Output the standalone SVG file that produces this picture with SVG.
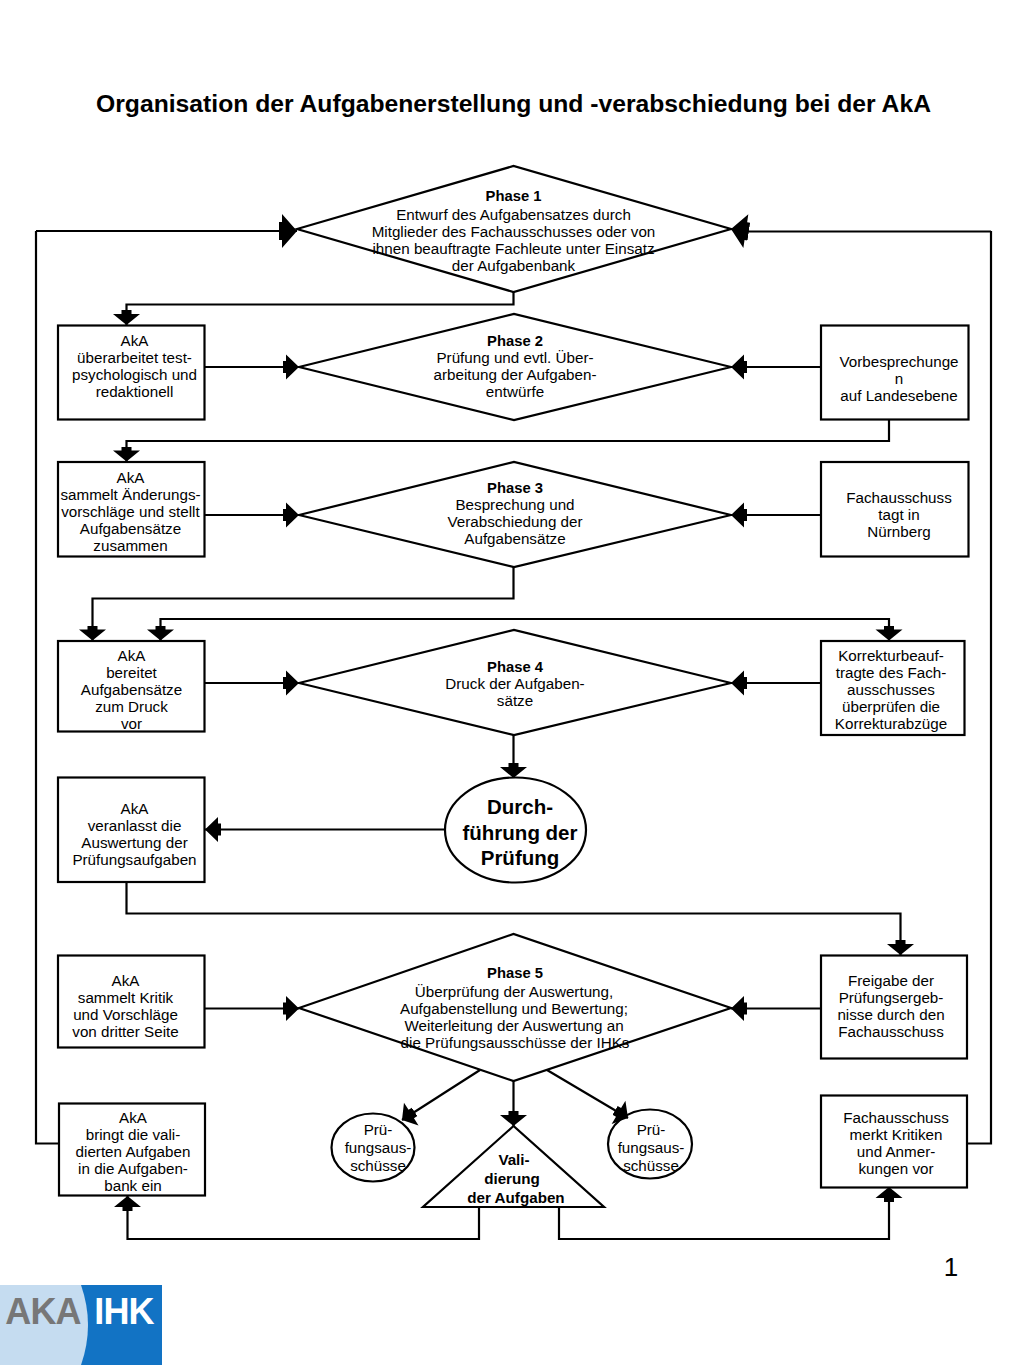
<svg xmlns="http://www.w3.org/2000/svg" width="1024" height="1365" viewBox="0 0 1024 1365">
<style>
.n{fill:none;stroke:#000;stroke-width:2.2}
.c{fill:none;stroke:#000;stroke-width:2.2;marker-end:url(#ah)}
.v{marker-end:url(#ahv)}
.b{marker-end:url(#ahb)}
text{font-family:"Liberation Sans",Arial,sans-serif;font-size:15.2px;text-anchor:middle;fill:#000}
.h{font-weight:bold;font-size:14.8px}
.t{font-size:24.7px;font-weight:bold}
.d{font-size:20.5px;font-weight:bold}
.l{font-size:36px;font-weight:bold;letter-spacing:-.8px}
</style>
<defs>
<marker id="ah" markerUnits="userSpaceOnUse" markerWidth="20" markerHeight="30" refX="16" refY="15" orient="auto" viewBox="0 0 20 30">
<path d="M0 9H3V2.500L16 15 3 27.500V21H0Z" fill="#000"/>
</marker>
<marker id="ahv" markerUnits="userSpaceOnUse" markerWidth="20" markerHeight="30" refX="15" refY="15" orient="auto" viewBox="0 0 20 30">
<path d="M0 10H4V1.500L15 15 4 28.500V20H0Z" fill="#000"/>
</marker>
<marker id="ahb" markerUnits="userSpaceOnUse" markerWidth="20" markerHeight="36" refX="18" refY="18" orient="auto" viewBox="0 0 20 36">
<path d="M0 9H3V1L18 18 3 35V27H0Z" fill="#000"/>
</marker>
</defs>
<rect width="1024" height="1365" fill="#fff"/>
<g id="title"><text class="t" x="513.500" y="112">Organisation der Aufgabenerstellung und -verabschiedung bei der AkA</text></g>
<g id="connectors">
<path class="n" d="M58 1143.500H36V231"/>
<path class="c b" d="M36 231H297"/>
<path class="n" d="M967 1143.500H991V231"/>
<path class="c b" d="M991 231.500H748L731 229"/>
<path class="c v" d="M513.500 292V304.500H126.500V325"/>
<path class="c" d="M205 367H299"/>
<path class="c" d="M821 367H731"/>
<path class="c v" d="M889 420V441H126.500V461.500"/>
<path class="c" d="M205 515H299"/>
<path class="c" d="M821 515H731"/>
<path class="c v" d="M513.500 567V598.500H92.500V640.500"/>
<path class="c v" d="M524 619H160.500V640.500"/>
<path class="c v" d="M524 619H889V640.500"/>
<path class="c" d="M205 683H299"/>
<path class="c" d="M821 683H731"/>
<path class="c v" d="M513.500 735V778"/>
<path class="c" d="M445 829.500H205"/>
<path class="c v" d="M126.500 882V913.500H900.500V955"/>
<path class="c" d="M205 1008.500H299"/>
<path class="c" d="M821 1008.500H731"/>
<path class="c v" d="M513.500 1081V1126"/>
<path class="c v" d="M480 1070L402 1120"/>
<path class="c v" d="M547 1070L628 1118"/>
<path class="c v" d="M479 1207V1239H127.500V1196"/>
<path class="c v" d="M559 1207V1239H889V1187"/>
</g>
<g id="phase1"><polygon class="n" points="297,229 513.500,166 731,229 513.500,292"/>
<text class="h" x="513.500" y="200.500">Phase 1</text><text x="513.500" y="219.500">Entwurf des Aufgabensatzes durch</text><text x="513.500" y="236.500">Mitglieder des Fachausschusses oder von</text><text x="513.500" y="253.500">ihnen beauftragte Fachleute unter Einsatz</text><text x="513.500" y="270.500">der Aufgabenbank</text></g>
<g id="phase2"><polygon class="n" points="299,367 514,314 731,367 514,420"/>
<text class="h" x="515" y="345.500">Phase 2</text><text x="515" y="363">Prüfung und evtl. Über-</text><text x="515" y="380">arbeitung der Aufgaben-</text><text x="515" y="397">entwürfe</text></g>
<g id="phase3"><polygon class="n" points="299,515 514,462 731,515 514,567"/>
<text class="h" x="515" y="492.500">Phase 3</text><text x="515" y="510">Besprechung und</text><text x="515" y="527">Verabschiedung der</text><text x="515" y="544">Aufgabensätze</text></g>
<g id="phase4"><polygon class="n" points="299,683 514,630 731,683 514,735"/>
<text class="h" x="515" y="671.500">Phase 4</text><text x="515" y="689">Druck der Aufgaben-</text><text x="515" y="706">sätze</text></g>
<g id="phase5"><polygon class="n" points="299,1008 513.500,934 731,1008 513.500,1081"/>
<text class="h" x="515" y="977.500">Phase 5</text><text x="514" y="997">Überprüfung der Auswertung,</text><text x="514" y="1014">Aufgabenstellung und Bewertung;</text><text x="514" y="1031">Weiterleitung der Auswertung an</text><text x="515" y="1048">die Prüfungsausschüsse der IHKs</text></g>
<g id="box-aka-1"><rect class="n" x="58" y="325.500" width="146.500" height="94"/>
<text x="134.500" y="346">AkA</text><text x="134.500" y="363">überarbeitet test-</text><text x="134.500" y="380">psychologisch und</text><text x="134.500" y="397">redaktionell</text></g>
<g id="box-vorbesprechungen"><rect class="n" x="821" y="325.500" width="147.500" height="94"/>
<text x="899" y="367">Vorbesprechunge</text><text x="899" y="384">n</text><text x="899" y="401">auf Landesebene</text></g>
<g id="box-aka-2"><rect class="n" x="58" y="462" width="146.500" height="94.500"/>
<text x="130.500" y="483">AkA</text><text x="130.500" y="500">sammelt Änderungs-</text><text x="130.500" y="517">vorschläge und stellt</text><text x="130.500" y="534">Aufgabensätze</text><text x="130.500" y="551">zusammen</text></g>
<g id="box-fachausschuss-1"><rect class="n" x="821" y="462" width="147.500" height="94.500"/>
<text x="899" y="503">Fachausschuss</text><text x="899" y="520">tagt in</text><text x="899" y="537">Nürnberg</text></g>
<g id="box-aka-3"><rect class="n" x="58" y="641" width="146.500" height="90.500"/>
<text x="131.500" y="661">AkA</text><text x="131.500" y="678">bereitet</text><text x="131.500" y="695">Aufgabensätze</text><text x="131.500" y="712">zum Druck</text><text x="131.500" y="729">vor</text></g>
<g id="box-korrektur"><rect class="n" x="821" y="641" width="143.500" height="94"/>
<text x="891" y="661">Korrekturbeauf-</text><text x="891" y="678">tragte des Fach-</text><text x="891" y="695">ausschusses</text><text x="891" y="712">überprüfen die</text><text x="891" y="729">Korrekturabzüge</text></g>
<g id="box-aka-4"><rect class="n" x="58" y="777.500" width="146.500" height="104.500"/>
<text x="134.500" y="814">AkA</text><text x="134.500" y="831">veranlasst die</text><text x="134.500" y="848">Auswertung der</text><text x="134.500" y="865">Prüfungsaufgaben</text></g>
<g id="durchfuehrung"><ellipse class="n" cx="515.500" cy="830" rx="70.500" ry="52.500"/>
<text class="d" x="520" y="814">Durch-</text><text class="d" x="520" y="840">führung der</text><text class="d" x="520" y="865">Prüfung</text></g>
<g id="box-aka-5"><rect class="n" x="58" y="955.500" width="146.500" height="92"/>
<text x="125.500" y="986">AkA</text><text x="125.500" y="1003">sammelt Kritik</text><text x="125.500" y="1020">und Vorschläge</text><text x="125.500" y="1037">von dritter Seite</text></g>
<g id="box-freigabe"><rect class="n" x="821" y="955.500" width="146" height="103"/>
<text x="891" y="986">Freigabe der</text><text x="891" y="1003">Prüfungsergeb-</text><text x="891" y="1020">nisse durch den</text><text x="891" y="1037">Fachausschuss</text></g>
<g id="box-aka-6"><rect class="n" x="59" y="1103.500" width="146" height="92"/>
<text x="133" y="1123">AkA</text><text x="133" y="1140">bringt die vali-</text><text x="133" y="1157">dierten Aufgaben</text><text x="133" y="1174">in die Aufgaben-</text><text x="133" y="1191">bank ein</text></g>
<g id="box-fachausschuss-2"><rect class="n" x="821" y="1095.500" width="146" height="92"/>
<text x="896" y="1123">Fachausschuss</text><text x="896" y="1140">merkt Kritiken</text><text x="896" y="1157">und Anmer-</text><text x="896" y="1174">kungen vor</text></g>
<g id="pruefung-links"><ellipse class="n" cx="373" cy="1147.500" rx="41.500" ry="34"/>
<text x="378" y="1135">Prü-</text><text x="378" y="1153">fungsaus-</text><text x="378" y="1171">schüsse</text></g>
<g id="pruefung-rechts"><ellipse class="n" cx="650" cy="1144" rx="42" ry="34.500"/>
<text x="651" y="1135">Prü-</text><text x="651" y="1153">fungsaus-</text><text x="651" y="1171">schüsse</text></g>
<g id="validierung"><polygon class="n" points="513.500,1126 423,1207 604,1207"/>
<text class="h" x="514" y="1165" style="font-size:15.200px">Vali-</text><text class="h" x="512" y="1184" style="font-size:15.200px">dierung</text><text class="h" x="516" y="1203" style="font-size:15.200px">der Aufgaben</text></g>
<g id="page-number"><text x="951" y="1276" style="font-size:26px">1</text></g>
<g id="logo">
<rect x="0" y="1285" width="162" height="80" fill="#1273c4"/>
<path d="M0 1285H81Q95 1325 81 1365H0Z" fill="#c5dcf0"/>
<text class="l" x="43" y="1324" style="fill:#777">AKA</text>
<text class="l" x="124" y="1324" style="fill:#fff">IHK</text>
</g>
</svg>
